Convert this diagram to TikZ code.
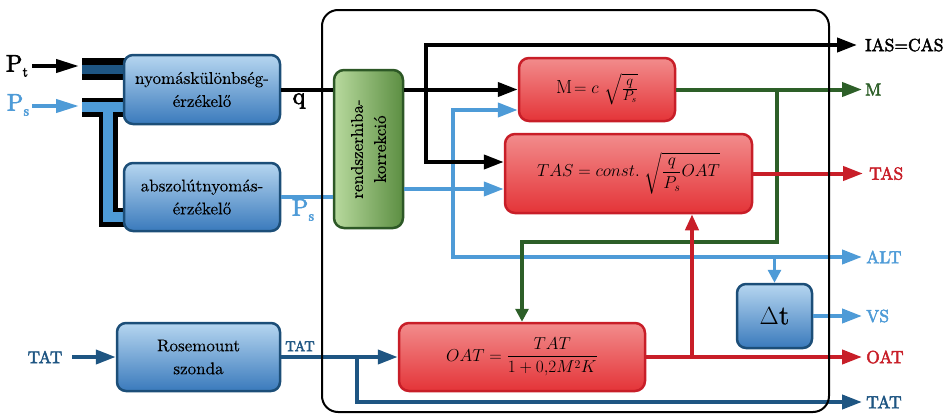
\documentclass[tikz,border=0pt]{standalone}
\usepackage{amsmath}
\usepackage{graphicx}
\usepackage{fontspec}
\newfontfamily\lblfont{lmroman10-regular.otf}[FakeBold=2.6]
\newfontfamily\boxfont{lmroman10-regular.otf}[FakeBold=0.3]
\usetikzlibrary{arrows.meta,calc}
\definecolor{lb}{RGB}{78,155,215}
\definecolor{db}{RGB}{30,85,130}
\definecolor{dg}{RGB}{45,95,40}
\definecolor{rd}{RGB}{200,30,40}
\definecolor{btop}{RGB}{182,214,240}
\definecolor{bbot}{RGB}{58,122,188}
\definecolor{bbord}{RGB}{28,78,120}
\definecolor{rtop}{RGB}{242,140,140}
\definecolor{rbot}{RGB}{228,52,56}
\definecolor{rbord}{RGB}{200,30,40}
\definecolor{gtop}{RGB}{184,218,158}
\definecolor{gbot}{RGB}{92,142,66}
\definecolor{gbord}{RGB}{45,88,38}
\newcommand\psub[1]{P\kern0.3pt\raisebox{-5pt}{\fontsize{14}{14}\selectfont #1}}
\tikzset{
  conn/.style={line width=4pt},
  bigtip/.style={-{Triangle[length=20pt,width=14pt]}},
  smalltip/.style={-{Triangle[length=13pt,width=13pt]}},
  bluebox/.style={draw=bbord, line width=2.5pt, rounded corners=9pt, top color=btop, bottom color=bbot, align=center, inner sep=0pt, font=\boxfont\fontsize{17}{23}\selectfont},
  redbox/.style={draw=rbord, line width=2.5pt, rounded corners=10pt, top color=rtop, bottom color=rbot, align=center, inner sep=0pt, font=\fontsize{17}{20}\selectfont},
  greenbox/.style={draw=gbord, line width=2.5pt, rounded corners=10pt, left color=gtop, right color=gbot, align=center, inner sep=0pt, font=\boxfont\fontsize{17}{23}\selectfont},
  outlbl/.style={anchor=west, inner sep=0pt, font=\lblfont\fontsize{17.5}{20}\selectfont},
  biglbl/.style={inner sep=0pt, font=\lblfont\fontsize{24}{24}\selectfont},
}
\begin{document}
\begin{tikzpicture}[x=1pt,y=-1pt]
\useasboundingbox (0,0) rectangle (946,415);

% ---- pressure tubes (drawn first, under the boxes) ----
\coordinate (ptT1) at (82,69);
\coordinate (ptT2) at (126,69);
\coordinate (psT1) at (82,107);
\coordinate (psT2) at (126,107);
\coordinate (psV1) at (108,107);
\coordinate (psV2) at (108,217);
\coordinate (psV3) at (126,217);
\draw[line width=22pt, black] (ptT1) -- (ptT2);
\draw[line width=9pt, db] (ptT1) -- (ptT2);
\draw[line width=19pt, black] (psT1) -- (psT2);
\draw[line width=19pt, black, miter limit=10] (psV1) -- (psV2) -- (psV3);
\draw[line width=10pt, lb] (psT1) -- (psT2);
\draw[line width=10pt, lb, miter limit=10] (psV1) -- (psV2) -- (psV3);

% ---- boxes (nodes) ----
\node[bluebox, minimum width=156pt, minimum height=69pt] (nyom) at (202,89.5) {nyomáskülönbség-\\érzékelő};
\node[bluebox, minimum width=156pt, minimum height=68pt] (absz) at (202,197) {abszolútnyomás-\\érzékelő};
\node[bluebox, minimum width=163pt, minimum height=68pt] (ros) at (198.5,357) {Rosemount\\szonda};
\node[greenbox, rotate=90, minimum width=158pt, minimum height=69pt] (green) at (368.5,149) {rendszerhiba-\\korrekció};
\node[redbox, minimum width=156pt, minimum height=63pt, font=\fontsize{19}{20}\selectfont] (M) at (597,89.5) {$\mathrm{M}\!= c\ \sqrt{\tfrac{q}{P_s}}$};
\node[redbox, minimum width=247pt, minimum height=79pt] (TAS) at (628.5,173.5) {$TAS = const.\ \sqrt{\dfrac{q}{P_s}OAT}$};
\node[redbox, minimum width=246pt, minimum height=68pt] (OAT) at (522,357) {$OAT = \dfrac{TAT}{1+0{,}2M^2K}$};
\node[bluebox, minimum width=75pt, minimum height=64pt, font=\boxfont\fontsize{27}{28}\selectfont] (dt) at (774.5,316) {$\Delta$t};

% ---- labels ----
\node[biglbl] (Pt) at (17,66) {\psub{t}};
\node[biglbl, text=lb] (Ps) at (18,105) {\psub{s}};
\node[biglbl] (qlbl) at (299,101) {q};
\node[biglbl, text=lb] (Ps2) at (303,210) {\psub{s}};
\node[inner sep=0pt, text=db, font=\lblfont\fontsize{17}{20}\selectfont] (tatin) at (45,357) {TAT};
\node[inner sep=0pt, text=db, font=\lblfont\fontsize{14.5}{16}\selectfont] (tatout) at (300,346) {TAT};
\node[outlbl] (lIAS) at (865,45) {IAS=CAS};
\node[outlbl, text=dg] (lM) at (865,89.5) {M};
\node[outlbl, text=rd] (lTAS) at (869,173.5) {TAS};
\node[outlbl, text=lb] (lALT) at (866,257) {ALT};
\node[outlbl, text=lb] (lVS) at (866,316) {VS};
\node[outlbl, text=rd] (lOAT) at (866,357) {OAT};
\node[outlbl, text=db] (lTAT) at (866,402) {TAT};

% ---- coordinates ----
\coordinate (jq) at (426,89.5);
\coordinate (iasE) at (857,45);
\coordinate (tasInK) at ($(TAS.west)+(0,-11.5)$);
\coordinate (tasInB) at ($(TAS.west)+(0,15.5)$);
\coordinate (mInB) at ($(M.west)+(0,20.5)$);
\coordinate (jb) at (453,189);
\coordinate (altE) at (862,257);
\coordinate (jalt) at (dt.north |- altE);
\coordinate (vsE) at (862,316);
\coordinate (mE) at (862,89.5);
\coordinate (jm) at (777,89.5);
\coordinate (gY) at (0,242);
\coordinate (gT) at (OAT.north |- gY);
\coordinate (tasE) at (863,173.5);
\coordinate (oatE) at (862,357);
\coordinate (jo) at (692,357);
\coordinate (tatE) at (862,402);
\coordinate (jt) at (357,357);
\coordinate (tatS) at (72,357);
\coordinate (ptA) at (32,66);
\coordinate (ptB) at (79,66);
\coordinate (psA) at (32,106);
\coordinate (psB) at (79,106);

% input arrows
\draw[conn, black, -{Triangle[length=23pt,width=13pt]}] (ptA) -- (ptB);
\draw[conn, lb, -{Triangle[length=23pt,width=13pt]}] (psA) -- (psB);

% ---- light blue connectors ----
\draw[conn, lb] (absz.east) -- (absz.east -| green.north);
\draw[conn, lb, bigtip] (green.south |- tasInB) -- (tasInB);
\draw[conn, lb, bigtip] (jb) |- (mInB);
\draw[conn, lb, bigtip] (jb) |- (altE);
\draw[line width=3pt, lb, smalltip] (jalt) -- (dt.north);
\draw[conn, lb, bigtip] (dt.east) -- (vsE);

% ---- green connectors ----
\draw[conn, dg, bigtip] (M.east) -- (mE);
\draw[conn, dg, smalltip] (jm) |- (gT) -- (OAT.north);

% ---- black connectors ----
\draw[conn, black] (nyom.east) -- (nyom.east -| green.north);
\draw[conn, black, bigtip] (green.south |- M.west) -- (M.west);
\draw[conn, black, bigtip] (jq) |- (iasE);
\draw[conn, black, bigtip] (jq) |- (tasInK);

% ---- red connectors ----
\draw[conn, rd, bigtip] (TAS.east) -- (tasE);
\draw[conn, rd, bigtip] (OAT.east) -- (oatE);
\draw[conn, rd, -{Triangle[length=16pt,width=13pt]}] (jo) -- (TAS.south -| jo);

% ---- dark blue connectors ----
\draw[conn, db, bigtip] (tatS) -- (ros.west);
\draw[conn, db, bigtip] (ros.east) -- (OAT.west);
\draw[conn, db, bigtip] (jt) |- (tatE);

% ---- outer frame ----
\draw[line width=2pt, rounded corners=16pt] (322,10) rectangle (829,412);
\end{tikzpicture}
\end{document}
